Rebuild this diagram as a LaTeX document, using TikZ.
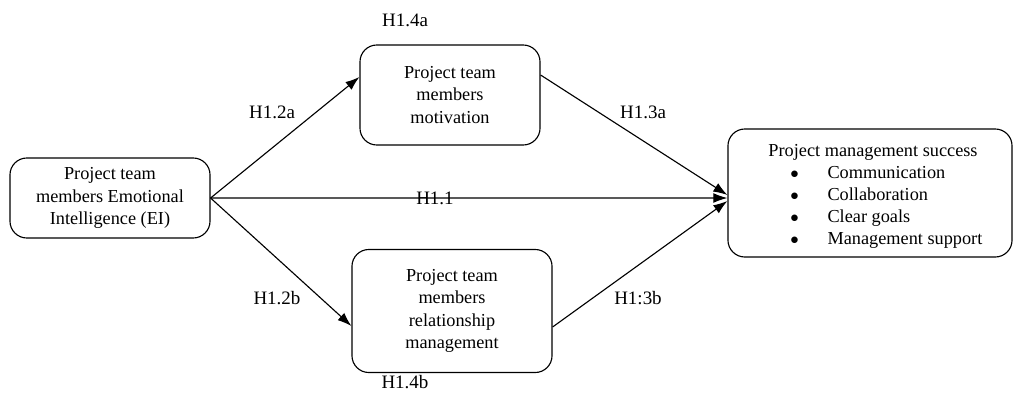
\documentclass[tikz,border=0pt]{standalone}
\usepackage{fontspec}
\setmainfont{Liberation Serif}
\usetikzlibrary{arrows.meta,positioning}

\tikzset{
  box/.style={draw, line width=0.8pt, rounded corners=12pt, align=center,
    inner sep=2pt, font=\fontsize{13}{15.8}\selectfont},
  hyp/.style={inner sep=1pt, font=\fontsize{13.5}{15}\selectfont},
  link/.style={line width=0.8pt, -{Latex[length=10pt,width=7pt]}},
}

\begin{document}
\begin{tikzpicture}[x=0.025cm,y=-0.025cm]
\useasboundingbox (0,0) rectangle (1014,396);

% the four boxes
\node[box, minimum width=5cm, minimum height=2cm] (ei) at (110,198)
  {Project team\\members Emotional\\Intelligence (EI)};
\node[box, minimum width=4.5cm, minimum height=2.5cm] (mot) at (450,95)
  {Project team\\members\\motivation};
\node[box, minimum width=5cm, minimum height=3.075cm] (rel) at (452,311)
  {Project team\\members\\relationship\\management};
\node[box, minimum width=7.1cm, minimum height=3.2cm] (succ) at (870,193) {};

% text of the success box
\node[inner sep=0pt, font=\fontsize{13}{15.5}\selectfont] (title) at (873,152) {Project management success};
\node[inner sep=0pt, anchor=north west, font=\fontsize{13}{15.6}\selectfont] (items) at (790,163)
  {\begin{tabular}{@{}c@{\hspace{0.72cm}}l@{}}
   $\bullet$ & Communication\\
   $\bullet$ & Collaboration\\
   $\bullet$ & Clear goals\\
   $\bullet$ & Management support
   \end{tabular}};

% connectors
\draw[link] (ei.east) -- ([yshift=0.45cm]mot.west);
\draw[link] (ei.east) -- ([yshift=-0.375cm]rel.west);
\draw[link] (ei.east) -- ([yshift=-0.125cm]succ.west);
\draw[link] ([yshift=0.5cm]mot.east) -- ([yshift=-0.05cm]succ.west);
\draw[link] ([yshift=-0.4cm]rel.east) -- ([yshift=-0.2cm]succ.west);

% hypothesis labels
\node[hyp] (h11) at (435,198) {H1.1};
\node[hyp] (h12a) at (272,112) {H1.2a};
\node[hyp] (h12b) at (277,298) {H1.2b};
\node[hyp] (h13a) at (643,112) {H1.3a};
\node[hyp] (h13b) at (638,298) {H1:3b};
\node[hyp] (h14a) at (405,20) {H1.4a};
\node[hyp] (h14b) at (405,382) {H1.4b};
\end{tikzpicture}
\end{document}
